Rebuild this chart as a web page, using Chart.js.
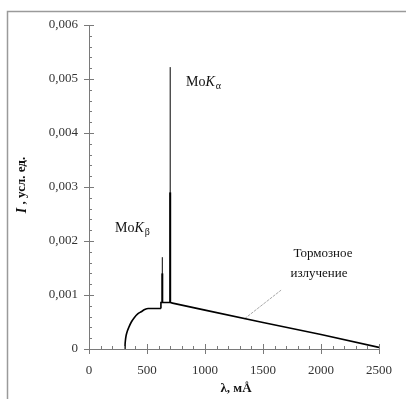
<!DOCTYPE html>
<html><head><meta charset="utf-8">
<script src="https://cdn.jsdelivr.net/npm/chart.js@4/dist/chart.umd.min.js"></script>
<style>html,body{margin:0;padding:0;background:#fff;}canvas{display:block;}</style>
</head><body>
<canvas id="c" width="406" height="399"></canvas>
<script>
// Data
const riseLambda = [310, 311, 314, 320, 330, 345, 365, 390, 420, 450, 480, 510, 620];
const riseI      = [0, 0.00008, 0.00016, 0.00025, 0.00033, 0.00041, 0.0005, 0.00058, 0.00065, 0.00069, 0.00073, 0.00075, 0.00075];
const tailLambda = [620, 620, 700, 720, 1000, 1500, 2000, 2500];
const tailI      = [0.00075, 0.00086, 0.00086, 0.00085, 0.00072, 0.00049, 0.00027, 0.00003];
const kBetaLambda = 632, kBetaBase = 0.00086, kBetaPeak = 0.0017, kBetaThick = 0.0014;
const kAlphaLambda = 700, kAlphaBase = 0.00086, kAlphaPeak = 0.00522, kAlphaThick = 0.0029;
const leaderLambda = [1341, 1656];
const leaderI = [0.00056, 0.00109];
const xTickValues = [0, 500, 1000, 1500, 2000, 2500];
const yTickValues = [0, 0.001, 0.002, 0.003, 0.004, 0.005, 0.006];
const yTickLabels = ['0', '0,001', '0,002', '0,003', '0,004', '0,005', '0,006'];

const pts = (xs, ys) => xs.map((x, i) => ({x, y: ys[i]}));
const serif = '"Liberation Serif", "Times New Roman", serif';

const decor = {
  id: 'decor',
  beforeDraw(chart) {
    const ctx = chart.ctx;
    ctx.save();
    ctx.strokeStyle = '#9a9a9a';
    ctx.lineWidth = 1.5;
    ctx.beginPath();
    ctx.moveTo(7.5, 399); ctx.lineTo(7.5, 11.5); ctx.lineTo(406, 11.5);
    ctx.stroke();
    ctx.restore();
  },
  afterDraw(chart) {
    const ctx = chart.ctx, xs = chart.scales.x, ys = chart.scales.y;
    const ax = xs.getPixelForValue(0), ay = ys.getPixelForValue(0);
    ctx.save();
    ctx.strokeStyle = '#7a7a7a';
    ctx.lineWidth = 1;
    ctx.beginPath();
    for (let v = 0; v <= 0.0060001; v += 0.0002) {
      const p = Math.round(ys.getPixelForValue(v)) + 0.5;
      const major = Math.abs(v / 0.001 - Math.round(v / 0.001)) < 1e-6;
      ctx.moveTo(major ? ax - 5 : ax, p); ctx.lineTo(ax + (major ? 5 : 3), p);
    }
    for (let v = 0; v <= 2500; v += 100) {
      const p = Math.round(xs.getPixelForValue(v)) + 0.5;
      const major = v % 500 === 0;
      ctx.moveTo(p, major ? ay + 5 : ay); ctx.lineTo(p, ay - (major ? 5 : 3));
    }
    ctx.stroke();

    // annotations
    ctx.fillStyle = '#111';
    ctx.textBaseline = 'middle';
    function moK(x, y, sub) {
      ctx.font = '14px ' + serif;
      ctx.textAlign = 'left';
      ctx.fillText('Mo', x, y);
      let w = ctx.measureText('Mo').width;
      ctx.font = 'italic 14px ' + serif;
      ctx.fillText('K', x + w, y);
      w += ctx.measureText('K').width + 1;
      ctx.font = '10px ' + serif;
      ctx.fillText(sub, x + w, y + 4);
    }
    moK(186, 82, 'α');
    moK(115, 228, 'β');
    ctx.font = '13px ' + serif;
    ctx.textAlign = 'center';
    ctx.fillText('Тормозное', 323, 254);
    ctx.fillText('излучение', 319, 274);

    // axis titles
    ctx.font = 'bold 13px ' + serif;
    ctx.textAlign = 'left';
    let t1 = 'λ, мÅ';
    let tw = ctx.measureText(t1).width;
    ctx.fillText(t1, 236 - tw / 2, 389);

    ctx.translate(22, 185);
    ctx.rotate(-Math.PI / 2);
    ctx.font = 'bold italic 14px ' + serif;
    const a = 'I';
    const wa = ctx.measureText(a).width;
    ctx.font = 'bold 13px ' + serif;
    const b = ' , усл. ед.';
    const wb = ctx.measureText(b).width;
    const start = -(wa + wb) / 2;
    ctx.font = 'bold italic 14px ' + serif;
    ctx.fillText(a, start, 0);
    ctx.font = 'bold 13px ' + serif;
    ctx.fillText(b, start + wa, 0);
    ctx.restore();
  }
};

new Chart(document.getElementById('c'), {
  type: 'scatter',
  data: {
    datasets: [
      {data: pts(riseLambda, riseI), showLine: true, borderColor: '#000', borderWidth: 1.6, pointRadius: 0, cubicInterpolationMode: 'monotone'},
      {data: pts(tailLambda, tailI), showLine: true, borderColor: '#000', borderWidth: 1.6, pointRadius: 0, tension: 0},
      {data: [{x: kBetaLambda, y: kBetaBase}, {x: kBetaLambda, y: kBetaPeak}], showLine: true, borderColor: '#000', borderWidth: 1, pointRadius: 0},
      {data: [{x: kBetaLambda, y: kBetaBase}, {x: kBetaLambda, y: kBetaThick}], showLine: true, borderColor: '#000', borderWidth: 2, pointRadius: 0},
      {data: [{x: kAlphaLambda, y: kAlphaBase}, {x: kAlphaLambda, y: kAlphaPeak}], showLine: true, borderColor: '#000', borderWidth: 1, pointRadius: 0},
      {data: [{x: kAlphaLambda, y: kAlphaBase}, {x: kAlphaLambda, y: kAlphaThick}], showLine: true, borderColor: '#000', borderWidth: 2, pointRadius: 0},
      {data: pts(leaderLambda, leaderI), showLine: true, borderColor: '#a8a8a8', borderWidth: 1, borderDash: [3, 1], pointRadius: 0}
    ]
  },
  options: {
    responsive: false,
    animation: false,
    events: [],
    layout: {padding: {left: 0, top: 25, right: 16, bottom: 0}},
    plugins: {legend: {display: false}, tooltip: {enabled: false}},
    scales: {
      x: {
        type: 'linear', min: 0, max: 2500,
        afterFit: s => { s.height = 50; },
        afterBuildTicks: s => { s.ticks = xTickValues.map(v => ({value: v})); },
        ticks: {color: '#333', font: {family: serif, size: 13}, padding: 14, maxRotation: 0,
                callback: v => String(v)},
        grid: {display: true, drawOnChartArea: false, drawTicks: false},
        border: {display: true, color: '#7a7a7a', width: 1}
      },
      y: {
        type: 'linear', min: 0, max: 0.006,
        afterFit: s => { s.width = 89; },
        afterBuildTicks: s => { s.ticks = yTickValues.map(v => ({value: v})); },
        ticks: {color: '#333', font: {family: serif, size: 13}, padding: 11,
                callback: (v) => { const i = yTickValues.findIndex(t => Math.abs(t - v) < 1e-9); return i >= 0 ? yTickLabels[i] : ''; }},
        grid: {display: true, drawOnChartArea: false, drawTicks: false},
        border: {display: true, color: '#7a7a7a', width: 1}
      }
    }
  },
  plugins: [decor]
});
</script>
</body></html>
